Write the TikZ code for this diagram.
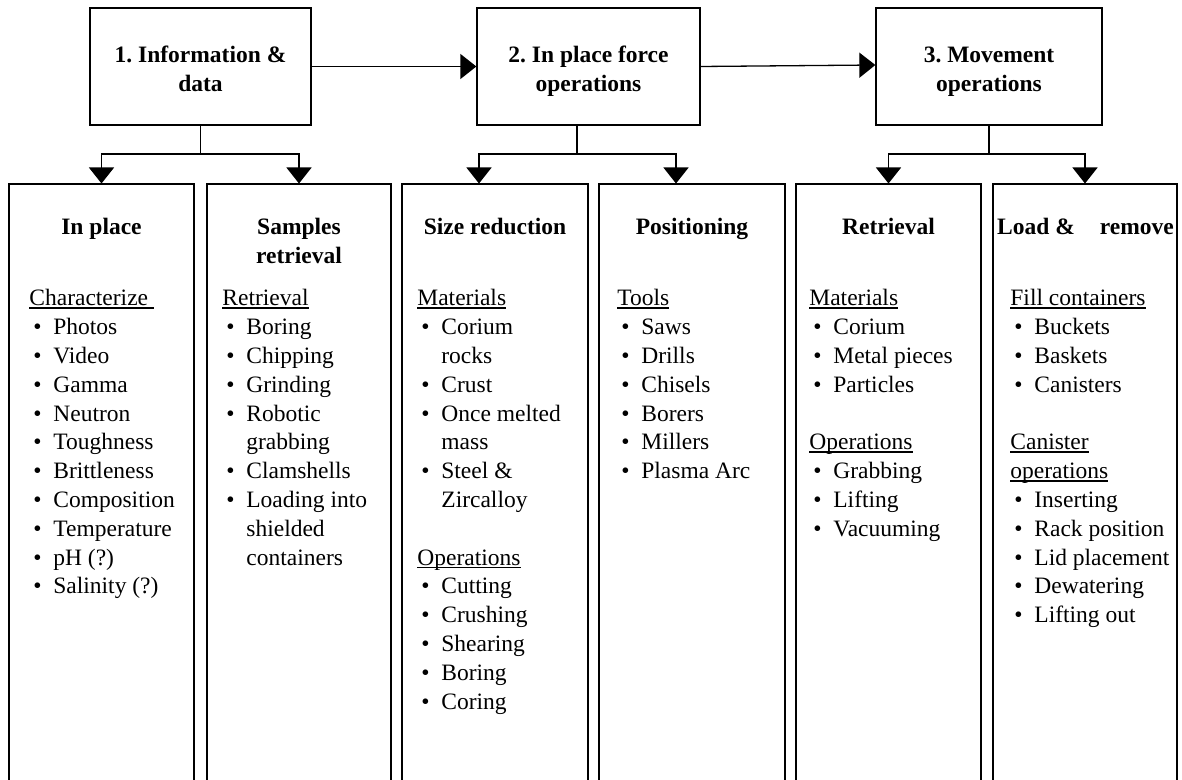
\documentclass[tikz,border=0pt]{standalone}
\usepackage{fontspec}
\setmainfont{Liberation Serif}
\usetikzlibrary{arrows.meta}
\frenchspacing

% underlined sub-heading
\newsavebox\ulbx
\newcommand\ulbox[1]{\sbox\ulbx{#1}\rlap{\rule[-1.5pt]{\wd\ulbx}{0.75pt}}\usebox\ulbx}
% bulleted item and its continuation line
\newcommand\itm[1]{\makebox[12pt][l]{\hspace{2pt}\textbullet}#1}
\newcommand\cnt[1]{\hspace{12pt}#1}

\begin{document}
\begin{tikzpicture}[x=0.5pt,y=-0.5pt,
  box/.style={draw, line width=0.65pt, inner sep=0pt},
  stage/.style={box, minimum height=58.5pt},
  column/.style={box, minimum height=300pt, anchor=north},
  txt/.style={inner sep=0pt, font=\fontsize{11.75}{14.4}\selectfont},
  head/.style={inner sep=0pt, anchor=base, font=\fontsize{11.75}{14.4}\selectfont\bfseries},
  lst/.style={txt, anchor=base west},
  ln/.style={line width=0.65pt},
  arr/.style={ln, -{Triangle[length=8pt,width=12.5pt]}}
]
\useasboundingbox (0,0) rectangle (1182,780);
\clip (0,0) rectangle (1182,780);

% ---- stages ----
\node[stage, minimum width=110.5pt] (b1) at (200.5,66.5) {};
\node[stage, minimum width=111.5pt] (b2) at (588.5,66.5) {};
\node[stage, minimum width=113pt]   (b3) at (989,66.5) {};

\node[head] (t1) at (200.5,62.5) {\begin{tabular}[t]{@{}c@{}}1. Information \&\\ data\end{tabular}};
\node[head] (t2) at (588.5,62.5) {\begin{tabular}[t]{@{}c@{}}2. In place force\\ operations\end{tabular}};
\node[head] (t3) at (989,62.5) {\begin{tabular}[t]{@{}c@{}}3. Movement\\ operations\end{tabular}};

\draw[arr] (b1.east) -- (b2.west);
\draw[arr] (b2.east) -- ([yshift=0.75pt]b3.west);

% ---- columns ----
\node[column, minimum width=92.5pt] (c1) at (101.5,183.5) {};
\node[column, minimum width=92pt]   (c2) at (299,183.5) {};
\node[column, minimum width=93pt]   (c3) at (495,183.5) {};
\node[column, minimum width=93pt]   (c4) at (692,183.5) {};
\node[column, minimum width=92.5pt] (c5) at (888.5,183.5) {};
\node[column, minimum width=92pt]   (c6) at (1085,183.5) {};

% ---- branches ----
\coordinate (j1) at (200.5,154);
\coordinate (j2) at (577,154);
\coordinate (j3) at (989,154);
\draw[ln] (b1.south) -- (j1);
\draw[arr] (j1) -| (c1.north);
\draw[arr] (j1) -| (c2.north);
\draw[ln] (b2.south -| j2) -- (j2);
\draw[arr] (j2) -| ([xshift=-8pt]c3.north);
\draw[arr] (j2) -| ([xshift=-8pt]c4.north);
\draw[ln] (b3.south) -- (j3);
\draw[arr] (j3) -| (c5.north);
\draw[arr] (j3) -| (c6.north);

% ---- column headings ----
\node[head] (h1) at (101.5,235) {In place};
\node[head] (h2) at (299,235) {\begin{tabular}[t]{@{}c@{}}Samples\\ retrieval\end{tabular}};
\node[head] (h3) at (495,235) {Size reduction};
\node[head] (h4) at (692,235) {Positioning};
\node[head] (h5) at (888.5,235) {Retrieval};
\node[head] (h6) at (1085.5,235) {Load \&\hspace{12.5pt}remove};

% ---- column contents ----
\node[lst] (l1) at (29,306) {\begin{tabular}[t]{@{}l@{}}
\ulbox{Characterize\ }\\
\itm{Photos}\\
\itm{Video}\\
\itm{Gamma}\\
\itm{Neutron}\\
\itm{Toughness}\\
\itm{Brittleness}\\
\itm{Composition}\\
\itm{Temperature}\\
\itm{pH (?)}\\
\itm{Salinity (?)}
\end{tabular}};

\node[lst] (l2) at (222,306) {\begin{tabular}[t]{@{}l@{}}
\ulbox{Retrieval}\\
\itm{Boring}\\
\itm{Chipping}\\
\itm{Grinding}\\
\itm{Robotic}\\
\cnt{grabbing}\\
\itm{Clamshells}\\
\itm{Loading into}\\
\cnt{shielded}\\
\cnt{containers}
\end{tabular}};

\node[lst] (l3) at (417,306) {\begin{tabular}[t]{@{}l@{}}
\ulbox{Materials}\\
\itm{Corium}\\
\cnt{rocks}\\
\itm{Crust}\\
\itm{Once melted}\\
\cnt{mass}\\
\itm{Steel \&}\\
\cnt{Zircalloy}\\
\mbox{}\\
\ulbox{Operations}\\
\itm{Cutting}\\
\itm{Crushing}\\
\itm{Shearing}\\
\itm{Boring}\\
\itm{Coring}
\end{tabular}};

\node[lst] (l4) at (617,306) {\begin{tabular}[t]{@{}l@{}}
\ulbox{Tools}\\
\itm{Saws}\\
\itm{Drills}\\
\itm{Chisels}\\
\itm{Borers}\\
\itm{Millers}\\
\itm{Plasma Arc}
\end{tabular}};

\node[lst] (l5) at (809,306) {\begin{tabular}[t]{@{}l@{}}
\ulbox{Materials}\\
\itm{Corium}\\
\itm{Metal pieces}\\
\itm{Particles}\\
\mbox{}\\
\ulbox{Operations}\\
\itm{Grabbing}\\
\itm{Lifting}\\
\itm{Vacuuming}
\end{tabular}};

\node[lst] (l6) at (1010,306) {\begin{tabular}[t]{@{}l@{}}
\ulbox{Fill containers}\\
\itm{Buckets}\\
\itm{Baskets}\\
\itm{Canisters}\\
\mbox{}\\
\ulbox{Canister}\\
\ulbox{operations}\\
\itm{Inserting}\\
\itm{Rack position}\\
\itm{Lid placement}\\
\itm{Dewatering}\\
\itm{Lifting out}
\end{tabular}};
\end{tikzpicture}
\end{document}
